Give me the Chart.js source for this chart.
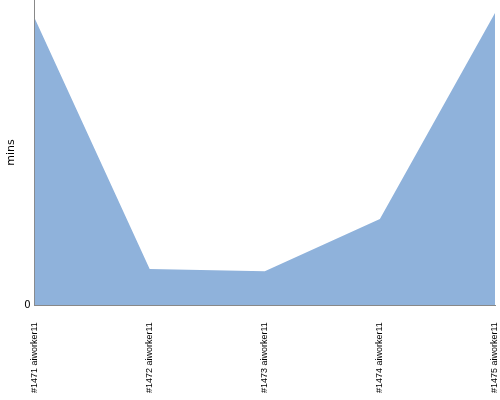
<!DOCTYPE html>
<html>
<head>
<meta charset="utf-8">
<script src="https://cdn.jsdelivr.net/npm/chart.js@4/dist/chart.umd.min.js"></script>
<style>
  html, body { margin: 0; padding: 0; background: #fff; }
  #wrap { width: 500px; height: 400px; }
</style>
</head>
<body>
<div id="wrap"><canvas id="chart" width="500" height="400"></canvas></div>
<script>
// build labels per run
const builds = ['#1471', '#1472', '#1473', '#1474', '#1475'];
const node = 'aiworker11';
// duration in minutes (axis max 100)
const durations = [94.1, 11.8, 11.1, 28.2, 95.7];
const yMax = 100;

const labels = builds.map(b => `${b} ${node}`);

// the scales reserve room for their end labels, the original chart doesn't
const noEdgePadding = scale => {
    scale.paddingLeft = 0;
    scale.paddingRight = 0;
    scale.paddingTop = 0;
    scale.paddingBottom = 0;
};

const ctx = document.getElementById('chart');
new Chart(ctx, {
    type: 'line',
    data: {
        labels: labels,
        datasets: [{
            data: durations,
            fill: 'origin',
            backgroundColor: '#8fb2db',
            borderWidth: 0,
            pointRadius: 0,
            tension: 0
        }]
    },
    options: {
        responsive: false,
        animation: false,
        layout: { padding: { top: 0, right: 5, left: 3, bottom: 5 } },
        plugins: { legend: { display: false }, tooltip: { enabled: false } },
        scales: {
            x: {
                offset: false,
                afterFit: scale => {
                    noEdgePadding(scale);
                    // rotated labels get more room than they use
                    scale.height -= 15;
                },
                grid: { display: false, drawTicks: false },
                border: { color: '#888', width: 1 },
                ticks: {
                    maxRotation: 90, minRotation: 90, autoSkip: false,
                    padding: 17,
                    color: '#000',
                    font: { family: 'Liberation Sans', size: 9 }
                }
            },
            y: {
                min: 0, max: yMax,
                afterFit: noEdgePadding,
                grid: { display: false, drawTicks: false },
                border: { color: '#888', width: 1 },
                ticks: {
                    stepSize: yMax,
                    padding: 4,
                    color: '#000',
                    font: { family: 'DejaVu Sans', size: 10 },
                    callback: v => v === 0 ? '0' : ''
                },
                title: {
                    display: true, text: 'mins', color: '#000',
                    font: { family: 'DejaVu Sans', size: 11 },
                    padding: 2
                }
            }
        }
    }
});
</script>
</body>
</html>
